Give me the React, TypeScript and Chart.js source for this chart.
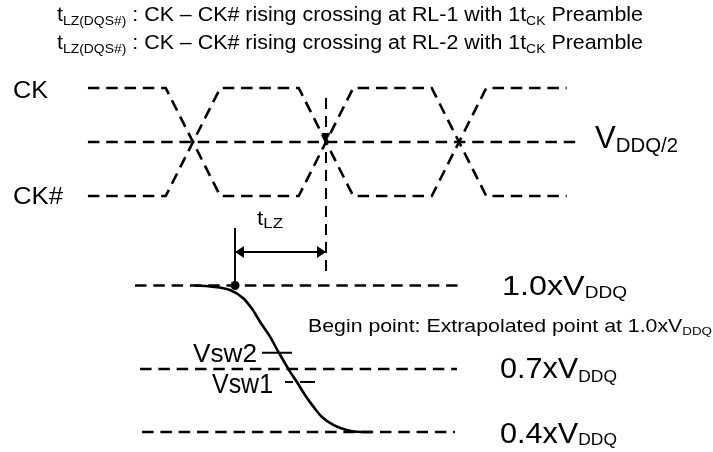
import React, { useEffect, useRef } from "react";
import { Chart, registerables } from "chart.js";
Chart.register(...registerables);

// ---- Data (time in tCK, clock crossings at integer tCK) ----
const clockT = [-0.79, -0.205, 0.205, 0.795, 1.205, 1.795, 2.205, 2.81];
const ckLevels = [1, 1, 0, 0, 1, 1, 0, 0];
const ckbLevels = [0, 0, 1, 1, 0, 0, 1, 1];
const vrefT = [-0.79, 2.895];
const vrefLevel = 0.5;
const markerT = 1;
const markerSpan = [0.907, -0.731];

// DQS# output (normalized: 0.4xVDDQ line = 0, 1.0xVDDQ line = 1)
const dqT = [0.015, 0.128, 0.278, 0.378, 0.441, 0.504, 0.579, 0.641, 0.692, 0.729, 0.78, 0.842, 0.905, 0.968, 1.055, 1.156, 1.231, 1.346];
const dqV = [1.0, 0.993, 0.969, 0.913, 0.844, 0.753, 0.651, 0.548, 0.469, 0.412, 0.343, 0.253, 0.173, 0.104, 0.048, 0.014, 0.002, 0];

const levelNames = ["1.0xVDDQ", "0.7xVDDQ", "0.4xVDDQ"];
const levelPos = [1, 0.43, 0];
const levelStart = [-0.436, -0.398, -0.383];
const levelEnd = [2.023, 1.985, 1.97];

const beginT = 0.316;
const beginV = 1;
const tlzLevel = 1.229;
const tlzTop = 1.3925;
const vsw2Level = 0.541;
const vsw2T = [0.519, 0.744];
const vsw1Level = 0.341;
const vsw1T = [0.692, 0.917];

const FONT = '"Liberation Sans", Arial, Helvetica, sans-serif';

type Run = [string, number, number?];
type Label = { x: number; y: number; w: number; runs: Run[] };

const labels: Label[] = [
  { x: 57, y: 20.5, w: 586, runs: [["t", 20], ["LZ(DQS#)", 13, 4], [" : CK \u2013 CK# rising crossing at RL-1 with 1t", 20], ["CK", 13, 4], [" Preamble", 20]] },
  { x: 57, y: 49, w: 586, runs: [["t", 20], ["LZ(DQS#)", 13, 4], [" : CK \u2013 CK# rising crossing at RL-2 with 1t", 20], ["CK", 13, 4], [" Preamble", 20]] },
  { x: 13, y: 97.5, w: 35, runs: [["CK", 24]] },
  { x: 13, y: 204, w: 50, runs: [["CK#", 24]] },
  { x: 595, y: 148, w: 83, runs: [["V", 32], ["DDQ/2", 21, 4]] },
  { x: 257, y: 225, w: 26, runs: [["t", 20], ["LZ", 15, 3]] },
  { x: 502, y: 295, w: 125, runs: [["1.0xV", 28], ["DDQ", 16.5, 3.3]] },
  { x: 308, y: 332, w: 404, runs: [["Begin point: Extrapolated point at 1.0xV", 18.5], ["DDQ", 11.6, 3]] },
  { x: 500, y: 378, w: 117, runs: [["0.7xV", 29], ["DDQ", 16.5, 3.7]] },
  { x: 500, y: 443, w: 117, runs: [["0.4xV", 29], ["DDQ", 16.5, 2]] },
  { x: 193, y: 362, w: 64, runs: [["Vsw2", 26]] },
  { x: 212, y: 393, w: 61, runs: [["Vsw1", 27]] },
];

type Arrow = { t: number; v: number; axis: string; dir: [number, number]; len: number; half: number };
const arrows: Arrow[] = [
  { t: beginT, v: tlzLevel, axis: "yDQ", dir: [-1, 0], len: 9, half: 6 },
  { t: markerT, v: tlzLevel, axis: "yDQ", dir: [1, 0], len: 9, half: 6 },
  { t: markerT, v: vrefLevel, axis: "yClk", dir: [0, 1], len: 9, half: 4.5 },
];

const textPlugin = {
  id: "diagramText",
  afterDraw(chart: any) {
    const ctx = chart.ctx as CanvasRenderingContext2D;
    ctx.save();
    ctx.fillStyle = "#000";
    for (const a of arrows) {
      const px = chart.scales.x.getPixelForValue(a.t);
      const py = chart.scales[a.axis].getPixelForValue(a.v);
      const [dx, dy] = a.dir;
      const bx = px - dx * a.len;
      const by = py - dy * a.len;
      ctx.beginPath();
      ctx.moveTo(px, py);
      ctx.lineTo(bx - dy * a.half, by + dx * a.half);
      ctx.lineTo(bx + dy * a.half, by - dx * a.half);
      ctx.closePath();
      ctx.fill();
    }
    ctx.restore();
    for (const l of labels) {
      ctx.save();
      let nat = 0;
      for (const r of l.runs) {
        ctx.font = `${r[1]}px ${FONT}`;
        nat += ctx.measureText(r[0]).width;
      }
      const sx = l.w / nat;
      ctx.translate(l.x, 0);
      ctx.scale(sx, 1);
      ctx.fillStyle = "#000";
      ctx.textBaseline = "alphabetic";
      let cx = 0;
      for (const r of l.runs) {
        ctx.font = `${r[1]}px ${FONT}`;
        ctx.fillText(r[0], cx, l.y + (r[2] || 0));
        cx += ctx.measureText(r[0]).width;
      }
      ctx.restore();
    }
  },
};

const DASH = [11.5, 6.8];

export default function App() {
  const ref = useRef<HTMLCanvasElement>(null);
  useEffect(() => {
    document.body.style.margin = "0";
    const line = (data: { x: number; y: number }[], axis: string, extra: any = {}) => ({
      data,
      yAxisID: axis,
      showLine: true,
      borderColor: "#000",
      backgroundColor: "#000",
      borderWidth: 2.6,
      pointRadius: 0,
      fill: false,
      ...extra,
    });
    const datasets: any[] = [
      line(clockT.map((t, i) => ({ x: t, y: ckLevels[i] })), "yClk", { label: "CK", borderDash: DASH }),
      line(clockT.map((t, i) => ({ x: t, y: ckbLevels[i] })), "yClk", { label: "CK#", borderDash: DASH }),
      line(vrefT.map((t) => ({ x: t, y: vrefLevel })), "yClk", { label: "VDDQ/2", borderDash: DASH }),
      line(markerSpan.map((v) => ({ x: markerT, y: v })), "yClk", { label: "marker", borderDash: [11, 7], borderWidth: 2 }),
      ...levelPos.map((p, i) =>
        line([{ x: levelStart[i], y: p }, { x: levelEnd[i], y: p }], "yDQ", { label: levelNames[i], borderDash: DASH })
      ),
      line(dqT.map((t, i) => ({ x: t, y: dqV[i] })), "yDQ", { label: "DQS#", cubicInterpolationMode: "monotone" }),
      line([{ x: beginT, y: beginV }, { x: beginT, y: tlzTop }], "yDQ", { label: "tLZ ref", borderWidth: 2 }),
      line([{ x: beginT, y: tlzLevel }, { x: markerT, y: tlzLevel }], "yDQ", { label: "tLZ", borderWidth: 2 }),
      line(vsw2T.map((t) => ({ x: t, y: vsw2Level })), "yDQ", { label: "Vsw2", borderWidth: 2 }),
      line(vsw1T.map((t) => ({ x: t, y: vsw1Level })), "yDQ", { label: "Vsw1", borderWidth: 2, borderDash: [8, 7, 15, 100] }),
      {
        label: "Begin point",
        data: [{ x: beginT, y: beginV }],
        yAxisID: "yDQ",
        showLine: false,
        pointRadius: 4.5,
        pointBackgroundColor: "#000",
        pointBorderColor: "#000",
        pointBorderWidth: 0,
      },
    ];
    const chart = new Chart(ref.current!, {
      type: "scatter",
      data: { datasets },
      options: {
        animation: false,
        responsive: false,
        devicePixelRatio: 1,
        layout: { padding: 0, autoPadding: false },
        plugins: { legend: { display: false }, tooltip: { enabled: false }, title: { display: false } },
        elements: { point: { radius: 0 } },
        scales: {
          x: { type: "linear", min: -193 / 133, max: (713 - 193) / 133, display: false },
          yClk: { type: "linear", position: "left", min: -2.3704, max: 1.8148, display: false },
          yDQ: { type: "linear", position: "right", min: -0.1365, max: 2.9488, display: false },
        },
      } as any,
      plugins: [textPlugin],
    });
    return () => chart.destroy();
  }, []);
  return (
    <div style={{ position: "fixed", left: 0, top: 0, width: 713, height: 452, background: "#fff" }}>
      <canvas ref={ref} width={713} height={452} style={{ width: 713, height: 452, display: "block" }} />
    </div>
  );
}
